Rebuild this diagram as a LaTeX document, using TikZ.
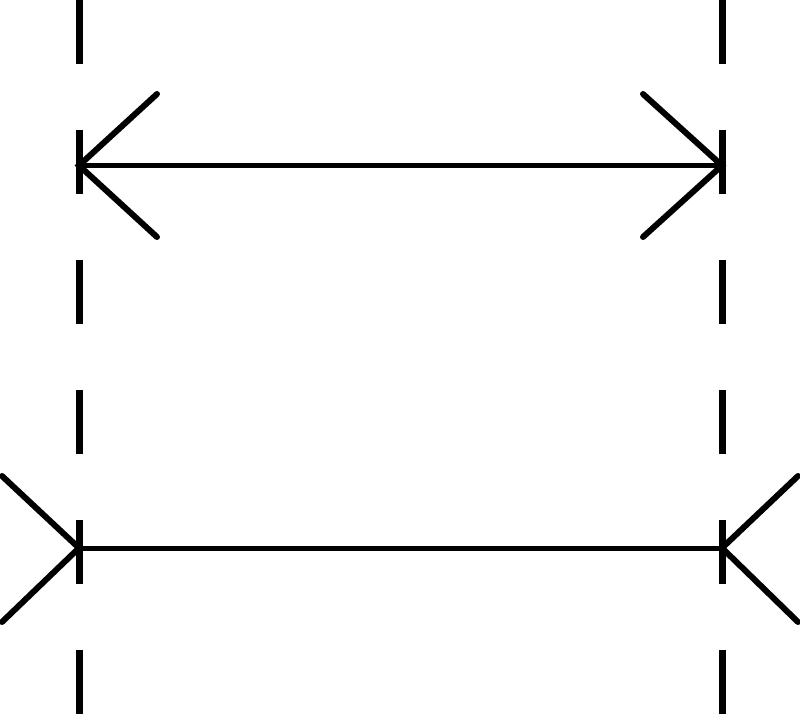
\documentclass[tikz,border=0pt]{standalone}
\begin{document}
\begin{tikzpicture}[x=1pt,y=-1pt,
  guide/.style={line width=7pt,dash pattern=on 64pt off 66pt},
  shaft/.style={line width=5pt},
  fin/.style={line width=6pt,line cap=round}]
\useasboundingbox (0,0) rectangle (800,715);
\fill[white] (0,0) rectangle (800,715);
% guide lines
\coordinate (GLt) at (79,0);   \coordinate (GLb) at (79,715);
\coordinate (GRt) at (722,0);  \coordinate (GRb) at (722,715);
\draw[guide] (GLt) -- (GLb);
\draw[guide] (GRt) -- (GRb);
% top figure
\coordinate (A) at (79,165.5);  \coordinate (B) at (722,165.5);
\coordinate (A1) at (157,94); \coordinate (A2) at (157,237);
\coordinate (B1) at (643,94); \coordinate (B2) at (643,237);
\draw[shaft] (A) -- (B);
\draw[fin] (A1) -- (A) -- (A2);
\draw[fin] (B1) -- (B) -- (B2);
% bottom figure
\coordinate (C) at (79,548);  \coordinate (D) at (722,548);
\coordinate (C1) at (2,476);  \coordinate (C2) at (2,622);
\coordinate (D1) at (798,476); \coordinate (D2) at (798,622);
\draw[shaft] (C) -- (D);
\draw[fin] (C1) -- (C) -- (C2);
\draw[fin] (D1) -- (D) -- (D2);
\end{tikzpicture}
\end{document}
